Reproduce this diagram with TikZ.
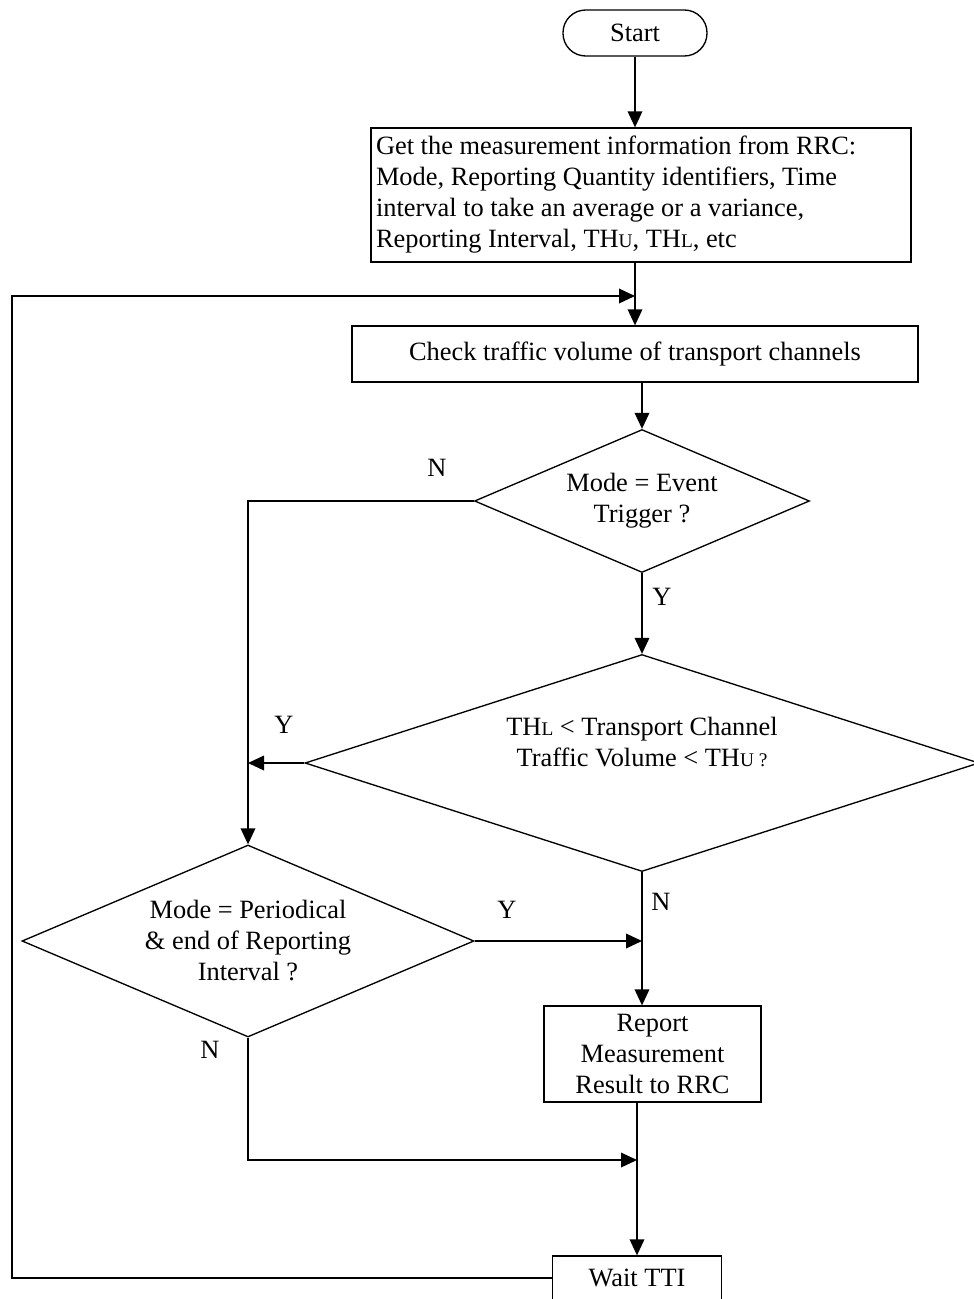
\documentclass[tikz,border=0pt]{standalone}
\usepackage{fontspec}
\setmainfont{Liberation Serif}
\usetikzlibrary{positioning,shapes.geometric,arrows.meta}
\newcommand{\lowcap}[1]{{\fontsize{14.5}{14.5}\selectfont #1}}

\tikzset{
  flow/.style={draw,line width=1pt,font=\fontsize{19.8}{23.25}\selectfont,align=center,inner sep=0pt},
  procbox/.style={flow,rectangle},
  decision/.style={flow,diamond},
  arr/.style={-{Triangle[length=12pt,width=11pt]},line width=1pt},
  tag/.style={font=\fontsize{19.8}{23.25}\selectfont,inner sep=0pt},
}

\begin{document}
\begin{tikzpicture}[x=0.75pt,y=-0.75pt]
    \useasboundingbox (0,0) rectangle (974,1299);
    % boxes
    \node[procbox,rounded corners=17pt,minimum width=108pt,minimum height=34.5pt] (start) at (635,33) {Start};
    \node[procbox,align=flush left,text width=397.5pt,minimum width=405pt,minimum height=100.5pt,inner xsep=3.75pt] 
        (info) at (641,195) {Get the measurement information from RRC:\\Mode, Reporting Quantity identifiers, Time\\interval to take an average or a variance,\\Reporting Interval, TH\lowcap{U}, TH\lowcap{L}, etc};
    \node[procbox,minimum width=424.5pt,minimum height=42pt] (check) at (635,354) {Check traffic volume of transport channels};
    \node[decision,aspect=2.34,minimum width=251.25pt,minimum height=107.25pt] (d1) at (642,501) {Mode = Event\\Trigger ?};
    \node[decision,aspect=3.1,minimum width=505.5pt,minimum height=162.75pt] (d2) at (642,763) {};
    \node[flow,draw=none] (d2txt) at (642,742) {TH\lowcap{L} < Transport Channel\\Traffic Volume < TH\lowcap{U ?}};
    \node[decision,aspect=2.35,minimum width=339pt,minimum height=144pt] (d3) at (248,941) {Mode = Periodical\\\& end of Reporting\\Interval ?};
    \node[procbox,minimum width=162.75pt,minimum height=72pt] (report) at (652.5,1054) {Report\\Measurement\\Result to RRC};
    \node[procbox,minimum width=126.75pt,minimum height=33pt] (wait) at (637,1278) {Wait TTI};
    % labels
    \node[tag] (n1) at (437,468) {N};
    \node[tag] (y1) at (662,597) {Y};
    \node[tag] (y2) at (284,725) {Y};
    \node[tag] (n2) at (661,902) {N};
    \node[tag] (y3) at (507,910) {Y};
    \node[tag] (n3) at (210,1050) {N};
    % connectors
    \coordinate (loopin) at (check.north |- 0,296);
    \coordinate (merge) at (wait.north |- 0,1160);
    \draw[arr] (start) -- (start |- info.north);
    \draw[arr] (check.north |- info.south) -- (check.north);
    \draw[arr] (wait.west) -| (12,296) -- (loopin);
    \draw[arr] (d1.north |- check.south) -- (d1.north);
    \draw[arr] (d1.west) -| (d3.north);
    \draw[arr] (d1.south) -- (d2.north);
    \draw[arr] (d2.west) -- (d2.west -| d3.north);
    \draw[arr] (d2.south) -- (d2.south |- report.north);
    \draw[arr] (d3.east) -- (d3.east -| d2.south);
    \draw[arr] (d3.south) |- (merge);
    \draw[arr] (wait.north |- report.south) -- (wait.north);
\end{tikzpicture}
\end{document}
